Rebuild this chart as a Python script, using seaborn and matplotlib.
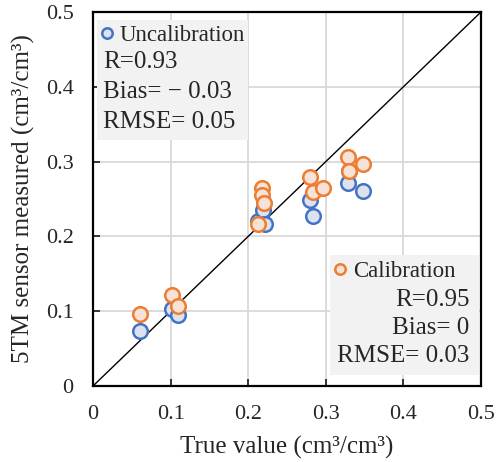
import numpy as np
import matplotlib
matplotlib.use("Agg")
import matplotlib.pyplot as plt
import seaborn as sns
from matplotlib.lines import Line2D
from matplotlib.patches import Rectangle

# values (true value vs. 5TM sensor reading)
uncal_true = [0.061, 0.102, 0.110, 0.213, 0.219, 0.222, 0.280, 0.284, 0.330, 0.328, 0.348]
uncal_meas = [0.073, 0.103, 0.095, 0.220, 0.235, 0.216, 0.248, 0.227, 0.288, 0.272, 0.261]

cal_true = [0.061, 0.102, 0.110, 0.218, 0.218, 0.221, 0.212, 0.279, 0.284, 0.297, 0.329, 0.330, 0.348]
cal_meas = [0.096, 0.121, 0.107, 0.265, 0.256, 0.244, 0.217, 0.280, 0.259, 0.265, 0.306, 0.287, 0.297]

ticks = [0, 0.1, 0.2, 0.3, 0.4, 0.5]
tick_labels = ["0", "0.1", "0.2", "0.3", "0.4", "0.5"]

uncal_stats = ["R=0.93", "Bias= \u2212 0.03", "RMSE= 0.05"]
cal_stats = ["R=0.95", "Bias= 0", "RMSE= 0.03"]

BLUE = "#4472c4"
ORANGE = "#ed7d31"

sns.set_style("white")
plt.rcParams["font.family"] = ["Liberation Serif", "DejaVu Serif"]

fig = plt.figure(figsize=(4.96, 4.62), dpi=100)
ax = fig.add_axes([93 / 496, 1 - 386 / 462, 388 / 496, 374 / 462])

ax.set_xlim(0, 0.5)
ax.set_ylim(0, 0.5)
ax.grid(True, color="#d9d9d9", linewidth=1.3)
ax.set_axisbelow(True)

# 1:1 line
ax.plot([0, 0.5], [0, 0.5], color="black", linewidth=1.0, zorder=2)

sns.scatterplot(x=uncal_true, y=uncal_meas, ax=ax, s=110, marker="o",
                facecolor="#dde3ee", edgecolor=BLUE, linewidth=1.8, zorder=3)
sns.scatterplot(x=cal_true, y=cal_meas, ax=ax, s=110, marker="o",
                facecolor="#f6e2d6", edgecolor=ORANGE, linewidth=1.8, zorder=4)

ax.set_xticks(ticks)
ax.set_xticklabels(tick_labels)
ax.set_yticks(ticks)
ax.set_yticklabels(tick_labels)
ax.tick_params(direction="in", length=5, width=1.3, labelsize=16, pad=14,
               bottom=True, left=True, top=False, right=False)
for sp in ax.spines.values():
    sp.set_color("black")
    sp.set_linewidth(1.6)

ax.set_xlabel("True value (cm\u00b3/cm\u00b3)", fontsize=18, labelpad=8)
ax.set_ylabel("5TM sensor measured (cm\u00b3/cm\u00b3)", fontsize=18, labelpad=8)

# text boxes with light grey background
ax.add_patch(Rectangle((0.01, 0.658), 0.39, 0.32, transform=ax.transAxes,
                       facecolor="#f2f2f2", edgecolor="none", zorder=5))
ax.add_patch(Rectangle((0.61, 0.03), 0.385, 0.32, transform=ax.transAxes,
                       facecolor="#f2f2f2", edgecolor="none", zorder=5))

h_unc = Line2D([], [], marker="o", linestyle="none", markersize=7.5,
               markerfacecolor="#dde3ee", markeredgecolor=BLUE, markeredgewidth=1.8)
h_cal = Line2D([], [], marker="o", linestyle="none", markersize=7.5,
               markerfacecolor="#f6e2d6", markeredgecolor=ORANGE, markeredgewidth=1.8)

leg1 = ax.legend([h_unc], ["Uncalibration"], loc="center left", bbox_to_anchor=(0.018, 0.936),
                 frameon=False, fontsize=16.5, handlelength=0.6, handletextpad=0.25,
                 borderpad=0, borderaxespad=0)
leg1.set_zorder(6)
ax.add_artist(leg1)
leg2 = ax.legend([h_cal], ["Calibration"], loc="center left", bbox_to_anchor=(0.62, 0.306),
                 frameon=False, fontsize=16.5, handlelength=0.6, handletextpad=0.25,
                 borderpad=0, borderaxespad=0)
leg2.set_zorder(6)

for i, t in enumerate(uncal_stats):
    ax.text(0.026, 0.866 - i * 0.08, t, transform=ax.transAxes, fontsize=18,
            ha="left", va="center", zorder=6)
for i, t in enumerate(cal_stats):
    ax.text(0.97, 0.229 - i * 0.074, t, transform=ax.transAxes, fontsize=18,
            ha="right", va="center", zorder=6)

fig.savefig("out.png", dpi=100)
